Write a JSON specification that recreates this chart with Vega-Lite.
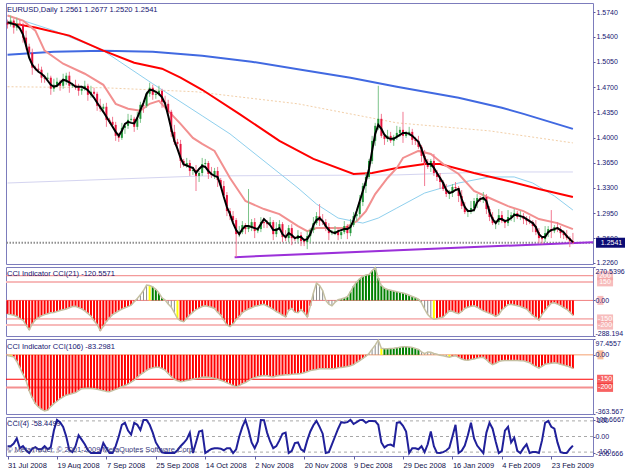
{
"$schema":"https://vega.github.io/schema/vega-lite/v6.json",
"padding":{"left":3,"top":2,"right":0,"bottom":0},
"background":"white",
"config":{"view":{"stroke":"#7C7CBC","strokeWidth":1},"axis":{"labelFont":"Liberation Sans","labelFontSize":7,"labelColor":"#141470","tickColor":"#5A5AA0","domain":false,"grid":false},"text":{"font":"Liberation Sans","fontSize":7.5}},
"resolve":{"scale":{"x":"independent","y":"independent","color":"independent"}},
"spacing":3,
"bounds":"flush",
"datasets":{
"bars":[
{"i":0,"o":1.5593,"h":1.5635,"l":1.5510,"c":1.5565,"m":1.5597,"a":-110,"ka":"r","b":-4,"kb":"w","d":-62},
{"i":1,"o":1.5565,"h":1.5691,"l":1.5538,"c":1.5621,"m":1.5586,"a":-115,"ka":"r","b":-8,"kb":"y","d":-62},
{"i":2,"o":1.5621,"h":1.5649,"l":1.5440,"c":1.5524,"m":1.5572,"a":-120,"ka":"r","b":-12,"kb":"r","d":-45},
{"i":3,"o":1.5524,"h":1.5663,"l":1.5482,"c":1.5579,"m":1.5558,"a":-130,"ka":"r","b":-40,"kb":"r","d":-12},
{"i":4,"o":1.5579,"h":1.5635,"l":1.5538,"c":1.5565,"m":1.5510,"a":-150,"ka":"r","b":-80,"kb":"r","d":-75},
{"i":5,"o":1.5565,"h":1.5593,"l":1.5315,"c":1.5385,"m":1.5426,"a":-160,"ka":"r","b":-120,"kb":"r","d":-62},
{"i":6,"o":1.5385,"h":1.5482,"l":1.5218,"c":1.5260,"m":1.5274,"a":-200,"ka":"r","b":-160,"kb":"r","d":-88},
{"i":7,"o":1.5260,"h":1.5301,"l":1.5121,"c":1.5176,"m":1.5107,"a":-238,"ka":"r","b":-220,"kb":"r","d":-106},
{"i":8,"o":1.5176,"h":1.5232,"l":1.4870,"c":1.4968,"m":1.5009,"a":-190,"ka":"r","b":-265,"kb":"r","d":-78},
{"i":9,"o":1.4968,"h":1.4996,"l":1.4926,"c":1.4954,"m":1.4954,"a":-158,"ka":"r","b":-300,"kb":"r","d":-68},
{"i":10,"o":1.4954,"h":1.5023,"l":1.4898,"c":1.4940,"m":1.4912,"a":-140,"ka":"r","b":-320,"kb":"r","d":-82},
{"i":11,"o":1.4940,"h":1.4982,"l":1.4759,"c":1.4829,"m":1.4884,"a":-125,"ka":"r","b":-335,"kb":"r","d":-82},
{"i":12,"o":1.4829,"h":1.4870,"l":1.4759,"c":1.4815,"m":1.4843,"a":-115,"ka":"r","b":-345,"kb":"r","d":-62},
{"i":13,"o":1.4815,"h":1.4898,"l":1.4787,"c":1.4829,"m":1.4787,"a":-108,"ka":"r","b":-340,"kb":"r","d":-82},
{"i":14,"o":1.4829,"h":1.4857,"l":1.4592,"c":1.4676,"m":1.4731,"a":-100,"ka":"r","b":-318,"kb":"r","d":-68},
{"i":15,"o":1.4676,"h":1.4815,"l":1.4634,"c":1.4731,"m":1.4704,"a":-97,"ka":"r","b":-300,"kb":"r","d":38},
{"i":16,"o":1.4731,"h":1.4829,"l":1.4704,"c":1.4773,"m":1.4717,"a":-90,"ka":"r","b":-285,"kb":"r","d":106},
{"i":17,"o":1.4773,"h":1.4801,"l":1.4648,"c":1.4717,"m":1.4759,"a":-82,"ka":"r","b":-270,"kb":"r","d":92},
{"i":18,"o":1.4717,"h":1.4884,"l":1.4676,"c":1.4787,"m":1.4801,"a":-75,"ka":"r","b":-258,"kb":"r","d":62},
{"i":19,"o":1.4787,"h":1.4898,"l":1.4731,"c":1.4857,"m":1.4787,"a":-70,"ka":"r","b":-248,"kb":"r","d":0},
{"i":20,"o":1.4857,"h":1.4912,"l":1.4620,"c":1.4717,"m":1.4766,"a":-60,"ka":"r","b":-243,"kb":"r","d":-88},
{"i":21,"o":1.4717,"h":1.4759,"l":1.4690,"c":1.4731,"m":1.4738,"a":-50,"ka":"r","b":-238,"kb":"r","d":-100},
{"i":22,"o":1.4731,"h":1.4801,"l":1.4662,"c":1.4704,"m":1.4704,"a":-48,"ka":"r","b":-232,"kb":"r","d":-62},
{"i":23,"o":1.4704,"h":1.4745,"l":1.4579,"c":1.4648,"m":1.4704,"a":-58,"ka":"r","b":-220,"kb":"r","d":8},
{"i":24,"o":1.4648,"h":1.4717,"l":1.4592,"c":1.4676,"m":1.4704,"a":-68,"ka":"r","b":-208,"kb":"r","d":-20},
{"i":25,"o":1.4676,"h":1.4787,"l":1.4648,"c":1.4717,"m":1.4683,"a":-85,"ka":"r","b":-207,"kb":"r","d":-50},
{"i":26,"o":1.4717,"h":1.4745,"l":1.4509,"c":1.4592,"m":1.4655,"a":-105,"ka":"r","b":-206,"kb":"r","d":-88},
{"i":27,"o":1.4592,"h":1.4717,"l":1.4551,"c":1.4634,"m":1.4606,"a":-128,"ka":"r","b":-207,"kb":"r","d":-106},
{"i":28,"o":1.4634,"h":1.4690,"l":1.4579,"c":1.4606,"m":1.4551,"a":-165,"ka":"r","b":-208,"kb":"r","d":-106},
{"i":29,"o":1.4606,"h":1.4634,"l":1.4370,"c":1.4440,"m":1.4481,"a":-195,"ka":"r","b":-212,"kb":"r","d":-105},
{"i":30,"o":1.4440,"h":1.4537,"l":1.4356,"c":1.4398,"m":1.4419,"a":-245,"ka":"r","b":-216,"kb":"r","d":-106},
{"i":31,"o":1.4398,"h":1.4467,"l":1.4342,"c":1.4426,"m":1.4356,"a":-210,"ka":"r","b":-220,"kb":"r","d":-42},
{"i":32,"o":1.4426,"h":1.4481,"l":1.4148,"c":1.4245,"m":1.4287,"a":-170,"ka":"r","b":-225,"kb":"r","d":-75},
{"i":33,"o":1.4245,"h":1.4273,"l":1.4189,"c":1.4217,"m":1.4217,"a":-140,"ka":"r","b":-227,"kb":"r","d":-106},
{"i":34,"o":1.4217,"h":1.4287,"l":1.4134,"c":1.4175,"m":1.4148,"a":-115,"ka":"r","b":-220,"kb":"r","d":-106},
{"i":35,"o":1.4175,"h":1.4217,"l":1.3953,"c":1.4023,"m":1.4078,"a":-100,"ka":"r","b":-212,"kb":"r","d":-62},
{"i":36,"o":1.4023,"h":1.4064,"l":1.3939,"c":1.3995,"m":1.4023,"a":-85,"ka":"r","b":-205,"kb":"r","d":0},
{"i":37,"o":1.3995,"h":1.4203,"l":1.3967,"c":1.4134,"m":1.4092,"a":-70,"ka":"r","b":-196,"kb":"r","d":75},
{"i":38,"o":1.4134,"h":1.4189,"l":1.4050,"c":1.4162,"m":1.4189,"a":-60,"ka":"r","b":-188,"kb":"r","d":88},
{"i":39,"o":1.4162,"h":1.4328,"l":1.4120,"c":1.4245,"m":1.4217,"a":-50,"ka":"r","b":-180,"kb":"r","d":38},
{"i":40,"o":1.4245,"h":1.4314,"l":1.4217,"c":1.4259,"m":1.4203,"a":-38,"ka":"r","b":-168,"kb":"r","d":12},
{"i":41,"o":1.4259,"h":1.4287,"l":1.4078,"c":1.4148,"m":1.4196,"a":-10,"ka":"r","b":-155,"kb":"r","d":88},
{"i":42,"o":1.4148,"h":1.4356,"l":1.4106,"c":1.4259,"m":1.4273,"a":15,"ka":"w","b":-138,"kb":"r","d":75},
{"i":43,"o":1.4259,"h":1.4495,"l":1.4203,"c":1.4453,"m":1.4384,"a":45,"ka":"w","b":-122,"kb":"r","d":42},
{"i":44,"o":1.4453,"h":1.4509,"l":1.4342,"c":1.4440,"m":1.4481,"a":80,"ka":"w","b":-110,"kb":"r","d":106},
{"i":45,"o":1.4440,"h":1.4634,"l":1.4412,"c":1.4606,"m":1.4606,"a":124,"ka":"w","b":-96,"kb":"r","d":106},
{"i":46,"o":1.4606,"h":1.4759,"l":1.4565,"c":1.4690,"m":1.4662,"a":120,"ka":"y","b":-85,"kb":"r","d":75},
{"i":47,"o":1.4690,"h":1.4731,"l":1.4523,"c":1.4592,"m":1.4655,"a":110,"ka":"g","b":-80,"kb":"r","d":25},
{"i":48,"o":1.4592,"h":1.4648,"l":1.4537,"c":1.4606,"m":1.4634,"a":90,"ka":"g","b":-76,"kb":"r","d":-38},
{"i":49,"o":1.4606,"h":1.4717,"l":1.4579,"c":1.4648,"m":1.4606,"a":60,"ka":"g","b":-76,"kb":"r","d":-70},
{"i":50,"o":1.4648,"h":1.4676,"l":1.4412,"c":1.4495,"m":1.4558,"a":20,"ka":"g","b":-84,"kb":"r","d":-102},
{"i":51,"o":1.4495,"h":1.4579,"l":1.4426,"c":1.4467,"m":1.4467,"a":2,"ka":"w","b":-94,"kb":"r","d":-106},
{"i":52,"o":1.4467,"h":1.4523,"l":1.4328,"c":1.4356,"m":1.4301,"a":-30,"ka":"w","b":-115,"kb":"r","d":-106},
{"i":53,"o":1.4356,"h":1.4384,"l":1.4009,"c":1.4078,"m":1.4120,"a":-55,"ka":"w","b":-135,"kb":"r","d":-106},
{"i":54,"o":1.4078,"h":1.4175,"l":1.3897,"c":1.3939,"m":1.3953,"a":-100,"ka":"w","b":-150,"kb":"r","d":-106},
{"i":55,"o":1.3939,"h":1.3981,"l":1.3856,"c":1.3911,"m":1.3842,"a":-147,"ka":"y","b":-160,"kb":"r","d":-88},
{"i":56,"o":1.3911,"h":1.3967,"l":1.3578,"c":1.3675,"m":1.3717,"a":-165,"ka":"r","b":-165,"kb":"r","d":-62},
{"i":57,"o":1.3675,"h":1.3703,"l":1.3592,"c":1.3619,"m":1.3626,"a":-172,"ka":"r","b":-163,"kb":"r","d":-42},
{"i":58,"o":1.3619,"h":1.3717,"l":1.3578,"c":1.3647,"m":1.3612,"a":-145,"ka":"r","b":-158,"kb":"r","d":-18},
{"i":59,"o":1.3647,"h":1.3689,"l":1.3467,"c":1.3536,"m":1.3592,"a":-118,"ka":"r","b":-155,"kb":"r","d":25},
{"i":60,"o":1.3536,"h":1.3592,"l":1.3481,"c":1.3550,"m":1.3578,"a":-95,"ka":"r","b":-150,"kb":"r","d":-106},
{"i":61,"o":1.3550,"h":1.3619,"l":1.3258,"c":1.3467,"m":1.3508,"a":-75,"ka":"r","b":-146,"kb":"r","d":-38},
{"i":62,"o":1.3467,"h":1.3536,"l":1.3383,"c":1.3508,"m":1.3564,"a":-62,"ka":"r","b":-143,"kb":"r","d":32},
{"i":63,"o":1.3508,"h":1.3717,"l":1.3467,"c":1.3633,"m":1.3606,"a":-50,"ka":"r","b":-138,"kb":"r","d":38},
{"i":64,"o":1.3633,"h":1.3703,"l":1.3606,"c":1.3647,"m":1.3592,"a":-44,"ka":"r","b":-136,"kb":"r","d":-106},
{"i":65,"o":1.3647,"h":1.3675,"l":1.3425,"c":1.3494,"m":1.3536,"a":-50,"ka":"r","b":-138,"kb":"r","d":-92},
{"i":66,"o":1.3494,"h":1.3592,"l":1.3439,"c":1.3481,"m":1.3494,"a":-55,"ka":"r","b":-141,"kb":"r","d":-80},
{"i":67,"o":1.3481,"h":1.3578,"l":1.3425,"c":1.3536,"m":1.3467,"a":-65,"ka":"r","b":-145,"kb":"r","d":-75},
{"i":68,"o":1.3536,"h":1.3592,"l":1.3314,"c":1.3411,"m":1.3453,"a":-95,"ka":"r","b":-150,"kb":"r","d":-75},
{"i":69,"o":1.3411,"h":1.3439,"l":1.3300,"c":1.3327,"m":1.3327,"a":-120,"ka":"r","b":-156,"kb":"r","d":-78},
{"i":70,"o":1.3327,"h":1.3397,"l":1.3161,"c":1.3202,"m":1.3175,"a":-160,"ka":"r","b":-163,"kb":"r","d":-88},
{"i":71,"o":1.3202,"h":1.3244,"l":1.2910,"c":1.2980,"m":1.3036,"a":-199,"ka":"r","b":-172,"kb":"r","d":-75},
{"i":72,"o":1.2980,"h":1.3022,"l":1.2855,"c":1.2910,"m":1.2938,"a":-212,"ka":"r","b":-180,"kb":"r","d":-75},
{"i":73,"o":1.2910,"h":1.2980,"l":1.2827,"c":1.2855,"m":1.2813,"a":-190,"ka":"r","b":-188,"kb":"r","d":-106},
{"i":74,"o":1.2855,"h":1.2883,"l":1.2341,"c":1.2660,"m":1.2716,"a":-155,"ka":"r","b":-197,"kb":"r","d":-82},
{"i":75,"o":1.2660,"h":1.2772,"l":1.2619,"c":1.2688,"m":1.2660,"a":-130,"ka":"r","b":-188,"kb":"r","d":0},
{"i":76,"o":1.2688,"h":1.2841,"l":1.2660,"c":1.2786,"m":1.2730,"a":-100,"ka":"r","b":-178,"kb":"r","d":62},
{"i":77,"o":1.2786,"h":1.2813,"l":1.2660,"c":1.2730,"m":1.2772,"a":-82,"ka":"r","b":-170,"kb":"r","d":106},
{"i":78,"o":1.2730,"h":1.3286,"l":1.2688,"c":1.2758,"m":1.2772,"a":-70,"ka":"r","b":-158,"kb":"r","d":42},
{"i":79,"o":1.2758,"h":1.2869,"l":1.2702,"c":1.2827,"m":1.2758,"a":-60,"ka":"r","b":-148,"kb":"r","d":-38},
{"i":80,"o":1.2827,"h":1.2883,"l":1.2605,"c":1.2702,"m":1.2744,"a":-48,"ka":"r","b":-140,"kb":"r","d":-75},
{"i":81,"o":1.2702,"h":1.2758,"l":1.2674,"c":1.2730,"m":1.2730,"a":-44,"ka":"r","b":-134,"kb":"r","d":-32},
{"i":82,"o":1.2730,"h":1.2897,"l":1.2688,"c":1.2827,"m":1.2799,"a":-36,"ka":"r","b":-130,"kb":"r","d":106},
{"i":83,"o":1.2827,"h":1.2869,"l":1.2744,"c":1.2813,"m":1.2869,"a":-31,"ka":"r","b":-127,"kb":"r","d":105},
{"i":84,"o":1.2813,"h":1.2855,"l":1.2744,"c":1.2799,"m":1.2827,"a":-45,"ka":"r","b":-128,"kb":"r","d":25},
{"i":85,"o":1.2799,"h":1.2897,"l":1.2772,"c":1.2827,"m":1.2786,"a":-58,"ka":"r","b":-133,"kb":"r","d":-32},
{"i":86,"o":1.2827,"h":1.2855,"l":1.2577,"c":1.2660,"m":1.2716,"a":-72,"ka":"r","b":-136,"kb":"r","d":-75},
{"i":87,"o":1.2660,"h":1.2827,"l":1.2619,"c":1.2744,"m":1.2716,"a":-90,"ka":"r","b":-130,"kb":"r","d":-62},
{"i":88,"o":1.2744,"h":1.2855,"l":1.2716,"c":1.2799,"m":1.2744,"a":-103,"ka":"r","b":-127,"kb":"r","d":-25},
{"i":89,"o":1.2799,"h":1.2827,"l":1.2549,"c":1.2619,"m":1.2660,"a":-120,"ka":"r","b":-125,"kb":"r","d":18},
{"i":90,"o":1.2619,"h":1.2716,"l":1.2563,"c":1.2605,"m":1.2619,"a":-134,"ka":"r","b":-123,"kb":"r","d":25},
{"i":91,"o":1.2605,"h":1.2786,"l":1.2549,"c":1.2744,"m":1.2674,"a":-80,"ka":"r","b":-122,"kb":"r","d":-106},
{"i":92,"o":1.2744,"h":1.2799,"l":1.2507,"c":1.2605,"m":1.2646,"a":-65,"ka":"r","b":-120,"kb":"r","d":-92},
{"i":93,"o":1.2605,"h":1.2632,"l":1.2563,"c":1.2591,"m":1.2605,"a":-95,"ka":"r","b":-118,"kb":"r","d":-42},
{"i":94,"o":1.2591,"h":1.2716,"l":1.2549,"c":1.2646,"m":1.2619,"a":-100,"ka":"r","b":-117,"kb":"r","d":-38},
{"i":95,"o":1.2646,"h":1.2688,"l":1.2494,"c":1.2563,"m":1.2619,"a":-75,"ka":"r","b":-115,"kb":"r","d":-82},
{"i":96,"o":1.2563,"h":1.2605,"l":1.2494,"c":1.2549,"m":1.2577,"a":-100,"ka":"r","b":-110,"kb":"r","d":-95},
{"i":97,"o":1.2549,"h":1.2702,"l":1.2452,"c":1.2632,"m":1.2591,"a":-134,"ka":"r","b":-104,"kb":"r","d":-25},
{"i":98,"o":1.2632,"h":1.2744,"l":1.2549,"c":1.2716,"m":1.2660,"a":-44,"ka":"r","b":-97,"kb":"r","d":32},
{"i":99,"o":1.2716,"h":1.2897,"l":1.2674,"c":1.2813,"m":1.2786,"a":60,"ka":"w","b":-93,"kb":"r","d":72},
{"i":100,"o":1.2813,"h":1.2966,"l":1.2786,"c":1.2910,"m":1.2855,"a":140,"ka":"w","b":-90,"kb":"r","d":100},
{"i":101,"o":1.2910,"h":1.3077,"l":1.2772,"c":1.2841,"m":1.2883,"a":120,"ka":"w","b":-86,"kb":"r","d":62},
{"i":102,"o":1.2841,"h":1.2938,"l":1.2786,"c":1.2827,"m":1.2841,"a":80,"ka":"w","b":-85,"kb":"r","d":18},
{"i":103,"o":1.2827,"h":1.2869,"l":1.2702,"c":1.2758,"m":1.2772,"a":0,"ka":"w","b":-85,"kb":"r","d":-106},
{"i":104,"o":1.2758,"h":1.2813,"l":1.2577,"c":1.2674,"m":1.2716,"a":-30,"ka":"w","b":-85,"kb":"r","d":-100},
{"i":105,"o":1.2674,"h":1.2716,"l":1.2646,"c":1.2688,"m":1.2688,"a":-44,"ka":"w","b":-85,"kb":"r","d":-50},
{"i":106,"o":1.2688,"h":1.2772,"l":1.2646,"c":1.2702,"m":1.2674,"a":-15,"ka":"w","b":-84,"kb":"r","d":0},
{"i":107,"o":1.2702,"h":1.2744,"l":1.2577,"c":1.2646,"m":1.2702,"a":5,"ka":"w","b":-80,"kb":"r","d":50},
{"i":108,"o":1.2646,"h":1.2730,"l":1.2591,"c":1.2688,"m":1.2716,"a":12,"ka":"g","b":-77,"kb":"r","d":92},
{"i":109,"o":1.2688,"h":1.2841,"l":1.2660,"c":1.2772,"m":1.2730,"a":20,"ka":"g","b":-75,"kb":"r","d":88},
{"i":110,"o":1.2772,"h":1.2799,"l":1.2591,"c":1.2674,"m":1.2730,"a":30,"ka":"g","b":-71,"kb":"r","d":92},
{"i":111,"o":1.2674,"h":1.2869,"l":1.2632,"c":1.2786,"m":1.2758,"a":70,"ka":"g","b":-67,"kb":"r","d":106},
{"i":112,"o":1.2786,"h":1.2966,"l":1.2758,"c":1.2910,"m":1.2855,"a":115,"ka":"g","b":-60,"kb":"r","d":80},
{"i":113,"o":1.2910,"h":1.2966,"l":1.2841,"c":1.2938,"m":1.2980,"a":150,"ka":"g","b":-47,"kb":"r","d":92},
{"i":114,"o":1.2938,"h":1.3202,"l":1.2897,"c":1.3105,"m":1.3119,"a":175,"ka":"g","b":-35,"kb":"r","d":105},
{"i":115,"o":1.3105,"h":1.3369,"l":1.3049,"c":1.3327,"m":1.3258,"a":195,"ka":"g","b":-22,"kb":"r","d":106},
{"i":116,"o":1.3327,"h":1.3508,"l":1.3230,"c":1.3453,"m":1.3397,"a":205,"ka":"g","b":-8,"kb":"r","d":88},
{"i":117,"o":1.3453,"h":1.3703,"l":1.3425,"c":1.3675,"m":1.3564,"a":210,"ka":"g","b":8,"kb":"w","d":100},
{"i":118,"o":1.3675,"h":1.4023,"l":1.3633,"c":1.3953,"m":1.3814,"a":240,"ka":"g","b":35,"kb":"w","d":100},
{"i":119,"o":1.3953,"h":1.4203,"l":1.3884,"c":1.4162,"m":1.4050,"a":265,"ka":"g","b":60,"kb":"w","d":98},
{"i":120,"o":1.4162,"h":1.4717,"l":1.4106,"c":1.4259,"m":1.4175,"a":180,"ka":"g","b":90,"kb":"w","d":75},
{"i":121,"o":1.4259,"h":1.4328,"l":1.3995,"c":1.4023,"m":1.4120,"a":120,"ka":"g","b":40,"kb":"y","d":-38},
{"i":122,"o":1.4023,"h":1.4050,"l":1.3897,"c":1.3981,"m":1.4037,"a":100,"ka":"g","b":37,"kb":"g","d":-70},
{"i":123,"o":1.3981,"h":1.4106,"l":1.3939,"c":1.4023,"m":1.3995,"a":88,"ka":"g","b":38,"kb":"g","d":-55},
{"i":124,"o":1.4023,"h":1.4078,"l":1.3925,"c":1.3953,"m":1.3981,"a":82,"ka":"g","b":39,"kb":"g","d":-52},
{"i":125,"o":1.3953,"h":1.4037,"l":1.3884,"c":1.4009,"m":1.3981,"a":76,"ka":"g","b":40,"kb":"g","d":-62},
{"i":126,"o":1.4009,"h":1.4162,"l":1.3967,"c":1.4064,"m":1.4009,"a":70,"ka":"g","b":43,"kb":"g","d":88},
{"i":127,"o":1.4064,"h":1.4148,"l":1.4009,"c":1.4106,"m":1.4037,"a":65,"ka":"g","b":47,"kb":"g","d":92},
{"i":128,"o":1.4106,"h":1.4356,"l":1.3925,"c":1.4023,"m":1.4064,"a":60,"ka":"g","b":50,"kb":"g","d":68},
{"i":129,"o":1.4023,"h":1.4092,"l":1.3995,"c":1.4064,"m":1.4064,"a":52,"ka":"g","b":50,"kb":"g","d":32},
{"i":130,"o":1.4064,"h":1.4148,"l":1.4023,"c":1.4078,"m":1.4050,"a":42,"ka":"g","b":48,"kb":"g","d":-106},
{"i":131,"o":1.4078,"h":1.4120,"l":1.3897,"c":1.3967,"m":1.4023,"a":32,"ka":"g","b":46,"kb":"g","d":-75},
{"i":132,"o":1.3967,"h":1.4009,"l":1.3897,"c":1.3953,"m":1.3981,"a":22,"ka":"g","b":40,"kb":"g","d":-75},
{"i":133,"o":1.3953,"h":1.4023,"l":1.3842,"c":1.3870,"m":1.3939,"a":10,"ka":"g","b":33,"kb":"g","d":-82},
{"i":134,"o":1.3870,"h":1.3897,"l":1.3661,"c":1.3744,"m":1.3842,"a":-20,"ka":"w","b":18,"kb":"w","d":-62},
{"i":135,"o":1.3744,"h":1.3828,"l":1.3327,"c":1.3647,"m":1.3717,"a":-70,"ka":"w","b":8,"kb":"w","d":-100},
{"i":136,"o":1.3647,"h":1.3703,"l":1.3564,"c":1.3592,"m":1.3633,"a":-115,"ka":"w","b":18,"kb":"w","d":-50},
{"i":137,"o":1.3592,"h":1.3703,"l":1.3522,"c":1.3675,"m":1.3633,"a":-140,"ka":"w","b":16,"kb":"w","d":32},
{"i":138,"o":1.3675,"h":1.3772,"l":1.3467,"c":1.3508,"m":1.3578,"a":-152,"ka":"y","b":8,"kb":"w","d":-62},
{"i":139,"o":1.3508,"h":1.3550,"l":1.3397,"c":1.3453,"m":1.3508,"a":-148,"ka":"r","b":4,"kb":"w","d":-105},
{"i":140,"o":1.3453,"h":1.3508,"l":1.3286,"c":1.3383,"m":1.3439,"a":-140,"ka":"r","b":-3,"kb":"w","d":-106},
{"i":141,"o":1.3383,"h":1.3411,"l":1.3258,"c":1.3286,"m":1.3369,"a":-134,"ka":"r","b":-6,"kb":"w","d":-100},
{"i":142,"o":1.3286,"h":1.3355,"l":1.3175,"c":1.3216,"m":1.3272,"a":-110,"ka":"r","b":-10,"kb":"w","d":-90},
{"i":143,"o":1.3216,"h":1.3272,"l":1.3147,"c":1.3230,"m":1.3230,"a":-85,"ka":"r","b":-14,"kb":"y","d":-72},
{"i":144,"o":1.3230,"h":1.3355,"l":1.3175,"c":1.3314,"m":1.3244,"a":-88,"ka":"r","b":-9,"kb":"r","d":0},
{"i":145,"o":1.3314,"h":1.3383,"l":1.3272,"c":1.3300,"m":1.3272,"a":-100,"ka":"r","b":-5,"kb":"r","d":75},
{"i":146,"o":1.3300,"h":1.3327,"l":1.3105,"c":1.3189,"m":1.3286,"a":-108,"ka":"r","b":-15,"kb":"r","d":-106},
{"i":147,"o":1.3189,"h":1.3272,"l":1.3008,"c":1.3049,"m":1.3147,"a":-90,"ka":"r","b":-26,"kb":"r","d":-92},
{"i":148,"o":1.3049,"h":1.3105,"l":1.2938,"c":1.2966,"m":1.3036,"a":-65,"ka":"r","b":-32,"kb":"r","d":-58},
{"i":149,"o":1.2966,"h":1.3008,"l":1.2897,"c":1.2980,"m":1.2980,"a":-55,"ka":"r","b":-33,"kb":"r","d":8},
{"i":150,"o":1.2980,"h":1.3119,"l":1.2938,"c":1.3022,"m":1.2980,"a":-48,"ka":"r","b":-28,"kb":"r","d":88},
{"i":151,"o":1.3022,"h":1.3161,"l":1.2966,"c":1.3119,"m":1.2994,"a":-44,"ka":"r","b":-25,"kb":"r","d":-12},
{"i":152,"o":1.3119,"h":1.3216,"l":1.3022,"c":1.3161,"m":1.3105,"a":-55,"ka":"r","b":-20,"kb":"r","d":-58},
{"i":153,"o":1.3161,"h":1.3189,"l":1.3105,"c":1.3133,"m":1.3147,"a":-70,"ka":"r","b":-16,"kb":"r","d":-82},
{"i":154,"o":1.3133,"h":1.3244,"l":1.3091,"c":1.3175,"m":1.3161,"a":-85,"ka":"r","b":-15,"kb":"r","d":-106},
{"i":155,"o":1.3175,"h":1.3216,"l":1.2938,"c":1.3008,"m":1.3119,"a":-95,"ka":"r","b":-30,"kb":"r","d":25},
{"i":156,"o":1.3008,"h":1.3049,"l":1.2841,"c":1.2897,"m":1.2966,"a":-105,"ka":"r","b":-48,"kb":"r","d":88},
{"i":157,"o":1.2897,"h":1.2966,"l":1.2786,"c":1.2813,"m":1.2869,"a":-115,"ka":"r","b":-60,"kb":"r","d":50},
{"i":158,"o":1.2813,"h":1.2855,"l":1.2730,"c":1.2827,"m":1.2813,"a":-130,"ka":"r","b":-52,"kb":"r","d":-32},
{"i":159,"o":1.2827,"h":1.3008,"l":1.2786,"c":1.2924,"m":1.2869,"a":-115,"ka":"r","b":-41,"kb":"r","d":-106},
{"i":160,"o":1.2924,"h":1.2980,"l":1.2813,"c":1.2841,"m":1.2869,"a":-78,"ka":"r","b":-36,"kb":"r","d":-92},
{"i":161,"o":1.2841,"h":1.2869,"l":1.2744,"c":1.2813,"m":1.2841,"a":-55,"ka":"r","b":-34,"kb":"r","d":38},
{"i":162,"o":1.2813,"h":1.2994,"l":1.2772,"c":1.2897,"m":1.2855,"a":-35,"ka":"r","b":-34,"kb":"r","d":62},
{"i":163,"o":1.2897,"h":1.2966,"l":1.2841,"c":1.2924,"m":1.2883,"a":-31,"ka":"r","b":-34,"kb":"r","d":-38},
{"i":164,"o":1.2924,"h":1.3008,"l":1.2827,"c":1.2952,"m":1.2924,"a":-38,"ka":"r","b":-34,"kb":"r","d":-8},
{"i":165,"o":1.2952,"h":1.2980,"l":1.2869,"c":1.2897,"m":1.2924,"a":-43,"ka":"r","b":-34,"kb":"r","d":-92},
{"i":166,"o":1.2897,"h":1.2980,"l":1.2855,"c":1.2910,"m":1.2910,"a":-50,"ka":"r","b":-36,"kb":"r","d":-106},
{"i":167,"o":1.2910,"h":1.2952,"l":1.2799,"c":1.2869,"m":1.2897,"a":-60,"ka":"r","b":-37,"kb":"r","d":-75},
{"i":168,"o":1.2869,"h":1.2910,"l":1.2786,"c":1.2841,"m":1.2869,"a":-70,"ka":"r","b":-42,"kb":"r","d":-50},
{"i":169,"o":1.2841,"h":1.2910,"l":1.2799,"c":1.2827,"m":1.2841,"a":-95,"ka":"r","b":-48,"kb":"r","d":-106},
{"i":170,"o":1.2827,"h":1.2855,"l":1.2688,"c":1.2772,"m":1.2813,"a":-122,"ka":"r","b":-62,"kb":"r","d":-100},
{"i":171,"o":1.2772,"h":1.2855,"l":1.2646,"c":1.2688,"m":1.2758,"a":-140,"ka":"r","b":-72,"kb":"r","d":-100},
{"i":172,"o":1.2688,"h":1.2744,"l":1.2535,"c":1.2605,"m":1.2660,"a":-160,"ka":"r","b":-81,"kb":"r","d":-106},
{"i":173,"o":1.2605,"h":1.2632,"l":1.2521,"c":1.2591,"m":1.2619,"a":-115,"ka":"r","b":-70,"kb":"r","d":-25},
{"i":174,"o":1.2591,"h":1.2772,"l":1.2549,"c":1.2674,"m":1.2619,"a":-80,"ka":"r","b":-58,"kb":"r","d":88},
{"i":175,"o":1.2674,"h":1.2772,"l":1.2619,"c":1.2730,"m":1.2688,"a":-50,"ka":"r","b":-54,"kb":"r","d":100},
{"i":176,"o":1.2730,"h":1.2994,"l":1.2605,"c":1.2702,"m":1.2716,"a":-22,"ka":"r","b":-51,"kb":"r","d":62},
{"i":177,"o":1.2702,"h":1.2786,"l":1.2674,"c":1.2758,"m":1.2730,"a":-20,"ka":"r","b":-49,"kb":"r","d":50},
{"i":178,"o":1.2758,"h":1.2827,"l":1.2688,"c":1.2730,"m":1.2744,"a":-30,"ka":"r","b":-52,"kb":"r","d":-38},
{"i":179,"o":1.2730,"h":1.2772,"l":1.2605,"c":1.2674,"m":1.2716,"a":-42,"ka":"r","b":-58,"kb":"r","d":-100},
{"i":180,"o":1.2674,"h":1.2716,"l":1.2591,"c":1.2646,"m":1.2688,"a":-58,"ka":"r","b":-63,"kb":"r","d":-106},
{"i":181,"o":1.2646,"h":1.2716,"l":1.2577,"c":1.2605,"m":1.2632,"a":-72,"ka":"r","b":-68,"kb":"r","d":-106},
{"i":182,"o":1.2605,"h":1.2632,"l":1.2480,"c":1.2561,"m":1.2591,"a":-95,"ka":"r","b":-75,"kb":"r","d":-80},
{"i":183,"o":1.2561,"h":1.2677,"l":1.2520,"c":1.2541,"m":1.2549,"a":-120.5571,"ka":"r","b":-83.2981,"kb":"r","d":-58.4499}
],
"lines":[
{"s":"lav","i":0,"p":1.3369},{"s":"lav","i":63,"p":1.3467},{"s":"lav","i":126,"p":1.3481},{"s":"lav","i":156,"p":1.3522},{"s":"lav","i":183,"p":1.3522},
{"s":"peach","i":0,"p":1.4704},{"s":"peach","i":31,"p":1.4690},{"s":"peach","i":61,"p":1.4634},{"s":"peach","i":94,"p":1.4467},{"s":"peach","i":126,"p":1.4203},{"s":"peach","i":156,"p":1.4092},{"s":"peach","i":183,"p":1.3925},
{"s":"blue","i":0,"p":1.5149},{"s":"blue","i":15,"p":1.5190},{"s":"blue","i":31,"p":1.5204},{"s":"blue","i":47,"p":1.5190},{"s":"blue","i":63,"p":1.5135},{"s":"blue","i":79,"p":1.5051},{"s":"blue","i":95,"p":1.4940},{"s":"blue","i":111,"p":1.4829},{"s":"blue","i":126,"p":1.4704},{"s":"blue","i":146,"p":1.4551},{"s":"blue","i":160,"p":1.4412},{"s":"blue","i":167,"p":1.4328},{"s":"blue","i":183,"p":1.4120},
{"s":"lblue","i":0,"p":1.5691},{"s":"lblue","i":15,"p":1.5482},{"s":"lblue","i":31,"p":1.5204},{"s":"lblue","i":47,"p":1.4745},{"s":"lblue","i":63,"p":1.4301},{"s":"lblue","i":72,"p":1.4050},{"s":"lblue","i":83,"p":1.3675},{"s":"lblue","i":94,"p":1.3300},{"s":"lblue","i":100,"p":1.3077},{"s":"lblue","i":107,"p":1.2883},{"s":"lblue","i":115,"p":1.2813},{"s":"lblue","i":120,"p":1.2883},{"s":"lblue","i":126,"p":1.3022},{"s":"lblue","i":135,"p":1.3230},{"s":"lblue","i":146,"p":1.3369},{"s":"lblue","i":156,"p":1.3453},{"s":"lblue","i":164,"p":1.3453},{"s":"lblue","i":170,"p":1.3369},{"s":"lblue","i":177,"p":1.3189},{"s":"lblue","i":183,"p":1.2994},
{"s":"red","i":0,"p":1.5593},{"s":"red","i":9,"p":1.5524},{"s":"red","i":20,"p":1.5413},{"s":"red","i":31,"p":1.5204},{"s":"red","i":41,"p":1.5037},{"s":"red","i":50,"p":1.4954},{"s":"red","i":56,"p":1.4829},{"s":"red","i":63,"p":1.4662},{"s":"red","i":75,"p":1.4328},{"s":"red","i":88,"p":1.3953},{"s":"red","i":99,"p":1.3703},{"s":"red","i":112,"p":1.3494},{"s":"red","i":118,"p":1.3508},{"s":"red","i":126,"p":1.3578},{"s":"red","i":135,"p":1.3633},{"s":"red","i":140,"p":1.3633},{"s":"red","i":151,"p":1.3508},{"s":"red","i":162,"p":1.3397},{"s":"red","i":172,"p":1.3286},{"s":"red","i":183,"p":1.3175},
{"s":"pink","i":0,"p":1.5691},{"s":"pink","i":5,"p":1.5621},{"s":"pink","i":9,"p":1.5482},{"s":"pink","i":12,"p":1.5204},{"s":"pink","i":18,"p":1.5023},{"s":"pink","i":25,"p":1.4884},{"s":"pink","i":31,"p":1.4731},{"s":"pink","i":35,"p":1.4467},{"s":"pink","i":39,"p":1.4398},{"s":"pink","i":43,"p":1.4370},{"s":"pink","i":46,"p":1.4467},{"s":"pink","i":49,"p":1.4509},{"s":"pink","i":52,"p":1.4370},{"s":"pink","i":56,"p":1.4189},{"s":"pink","i":60,"p":1.3995},{"s":"pink","i":63,"p":1.3911},{"s":"pink","i":67,"p":1.3814},{"s":"pink","i":72,"p":1.3439},{"s":"pink","i":77,"p":1.3119},{"s":"pink","i":83,"p":1.3008},{"s":"pink","i":88,"p":1.2938},{"s":"pink","i":94,"p":1.2772},{"s":"pink","i":97,"p":1.2702},{"s":"pink","i":100,"p":1.2744},{"s":"pink","i":104,"p":1.2744},{"s":"pink","i":109,"p":1.2744},{"s":"pink","i":113,"p":1.2841},{"s":"pink","i":116,"p":1.2980},{"s":"pink","i":119,"p":1.3216},{"s":"pink","i":123,"p":1.3439},{"s":"pink","i":126,"p":1.3578},{"s":"pink","i":128,"p":1.3717},{"s":"pink","i":133,"p":1.3814},{"s":"pink","i":137,"p":1.3772},{"s":"pink","i":141,"p":1.3633},{"s":"pink","i":146,"p":1.3494},{"s":"pink","i":151,"p":1.3258},{"s":"pink","i":156,"p":1.3161},{"s":"pink","i":162,"p":1.3049},{"s":"pink","i":167,"p":1.2980},{"s":"pink","i":172,"p":1.2869},{"s":"pink","i":178,"p":1.2813},{"s":"pink","i":183,"p":1.2730},
{"s":"trend","i":73.5,"p":1.2341},{"s":"trend","i":189.5,"p":1.2549}
]
},
"vconcat":[
{
"data":{"name":"bars"},
"width":587,"height":261,
"layer":[
{"data":{"name":"lines"},"transform":[{"filter":"datum.s=='lav'"}],"mark":{"type":"line","color":"#D4D4F0","strokeWidth":1},
 "encoding":{"x":{"field":"i","type":"quantitative","scale":{"domain":[-0.5,189.5],"nice":false,"zero":false},"axis":null},
 "y":{"field":"p","type":"quantitative","scale":{"domain":[1.2246,1.5865],"nice":false,"zero":false},"axis":{"orient":"right","values":[1.574,1.54,1.505,1.47,1.435,1.4,1.365,1.33,1.295,1.26,1.226],"format":".4f","tickSize":2,"labelPadding":1,"labelFlush":false,"title":null}}}},
{"data":{"name":"lines"},"transform":[{"filter":"datum.s=='peach'"}],"mark":{"type":"line","color":"#F2CFA8","strokeWidth":1,"strokeDash":[2,2]},
 "encoding":{"x":{"field":"i","type":"quantitative","axis":null},"y":{"field":"p","type":"quantitative","axis":{"orient":"right","values":[1.574,1.54,1.505,1.47,1.435,1.4,1.365,1.33,1.295,1.26,1.226],"format":".4f","tickSize":2,"labelPadding":1,"labelFlush":false,"title":null}}}},
{"data":{"name":"lines"},"transform":[{"filter":"datum.s=='blue'"}],"mark":{"type":"line","color":"#4169E1","strokeWidth":2},
 "encoding":{"x":{"field":"i","type":"quantitative","axis":null},"y":{"field":"p","type":"quantitative","axis":{"orient":"right","values":[1.574,1.54,1.505,1.47,1.435,1.4,1.365,1.33,1.295,1.26,1.226],"format":".4f","tickSize":2,"labelPadding":1,"labelFlush":false,"title":null}}}},
{"data":{"name":"lines"},"transform":[{"filter":"datum.s=='lblue'"}],"mark":{"type":"line","color":"#8FD0EE","strokeWidth":1},
 "encoding":{"x":{"field":"i","type":"quantitative","axis":null},"y":{"field":"p","type":"quantitative","axis":{"orient":"right","values":[1.574,1.54,1.505,1.47,1.435,1.4,1.365,1.33,1.295,1.26,1.226],"format":".4f","tickSize":2,"labelPadding":1,"labelFlush":false,"title":null}}}},
{"data":{"name":"lines"},"transform":[{"filter":"datum.s=='red'"}],"mark":{"type":"line","color":"#FF0000","strokeWidth":2},
 "encoding":{"x":{"field":"i","type":"quantitative","axis":null},"y":{"field":"p","type":"quantitative","axis":{"orient":"right","values":[1.574,1.54,1.505,1.47,1.435,1.4,1.365,1.33,1.295,1.26,1.226],"format":".4f","tickSize":2,"labelPadding":1,"labelFlush":false,"title":null}}}},
{"data":{"name":"lines"},"transform":[{"filter":"datum.s=='pink'"}],"mark":{"type":"line","color":"#F29090","strokeWidth":2},
 "encoding":{"x":{"field":"i","type":"quantitative","axis":null},"y":{"field":"p","type":"quantitative","axis":{"orient":"right","values":[1.574,1.54,1.505,1.47,1.435,1.4,1.365,1.33,1.295,1.26,1.226],"format":".4f","tickSize":2,"labelPadding":1,"labelFlush":false,"title":null}}}},
{"data":{"values":[{"p":1.2541}]},"mark":{"type":"rule","color":"#909090","strokeWidth":2,"strokeDash":[1.5,1.5]},
 "encoding":{"y":{"field":"p","type":"quantitative","axis":{"orient":"right","values":[1.574,1.54,1.505,1.47,1.435,1.4,1.365,1.33,1.295,1.26,1.226],"format":".4f","tickSize":2,"labelPadding":1,"labelFlush":false,"title":null}}}},
{"data":{"name":"lines"},"transform":[{"filter":"datum.s=='trend'"}],"mark":{"type":"line","color":"#9B30D9","strokeWidth":2},
 "encoding":{"x":{"field":"i","type":"quantitative","axis":null},"y":{"field":"p","type":"quantitative","axis":{"orient":"right","values":[1.574,1.54,1.505,1.47,1.435,1.4,1.365,1.33,1.295,1.26,1.226],"format":".4f","tickSize":2,"labelPadding":1,"labelFlush":false,"title":null}}}},
{"mark":{"type":"rule","strokeWidth":1},
 "encoding":{"x":{"field":"i","type":"quantitative","axis":null},"y":{"field":"l","type":"quantitative","axis":{"orient":"right","values":[1.574,1.54,1.505,1.47,1.435,1.4,1.365,1.33,1.295,1.26,1.226],"format":".4f","tickSize":2,"labelPadding":1,"labelFlush":false,"title":null}},"y2":{"field":"h"},
 "color":{"condition":{"test":"datum.c >= datum.o","value":"#7CC48A"},"value":"#F27A92"}}},
{"mark":{"type":"rule","strokeWidth":2},
 "encoding":{"x":{"field":"i","type":"quantitative","axis":null},"y":{"field":"o","type":"quantitative","axis":{"orient":"right","values":[1.574,1.54,1.505,1.47,1.435,1.4,1.365,1.33,1.295,1.26,1.226],"format":".4f","tickSize":2,"labelPadding":1,"labelFlush":false,"title":null}},"y2":{"field":"c"},
 "color":{"condition":{"test":"datum.c >= datum.o","value":"#23963A"},"value":"#E8163F"}}},
{"mark":{"type":"line","color":"#000000","strokeWidth":2},
 "encoding":{"x":{"field":"i","type":"quantitative","axis":null},"y":{"field":"m","type":"quantitative","axis":{"orient":"right","values":[1.574,1.54,1.505,1.47,1.435,1.4,1.365,1.33,1.295,1.26,1.226],"format":".4f","tickSize":2,"labelPadding":1,"labelFlush":false,"title":null}}}},
{"data":{"values":[{"t":"EURUSD,Daily  1.2561 1.2677 1.2520 1.2541"}]},"mark":{"type":"text","align":"left","baseline":"top","dx":1,"dy":3,"color":"#141470"},
 "encoding":{"x":{"datum":-0.5,"axis":null},"y":{"datum":1.5865,"axis":{"orient":"right","values":[1.574,1.54,1.505,1.47,1.435,1.4,1.365,1.33,1.295,1.26,1.226],"format":".4f","tickSize":2,"labelPadding":1,"labelFlush":false,"title":null}},"text":{"field":"t"}}},
{"data":{"values":[{"p":1.2541,"t":"1.2541"}]},"mark":{"type":"tick","orient":"horizontal","size":31,"thickness":10,"color":"#0B0B74","opacity":1},
 "encoding":{"x":{"datum":195.5,"axis":null},"y":{"field":"p","type":"quantitative","axis":{"orient":"right","values":[1.574,1.54,1.505,1.47,1.435,1.4,1.365,1.33,1.295,1.26,1.226],"format":".4f","tickSize":2,"labelPadding":1,"labelFlush":false,"title":null}}}},
{"data":{"values":[{"p":1.2541,"t":"1.2541"}]},"mark":{"type":"text","align":"center","baseline":"middle","color":"#FFFFFF","fontSize":7},
 "encoding":{"x":{"datum":195.5,"axis":null},"y":{"field":"p","type":"quantitative","axis":{"orient":"right","values":[1.574,1.54,1.505,1.47,1.435,1.4,1.365,1.33,1.295,1.26,1.226],"format":".4f","tickSize":2,"labelPadding":1,"labelFlush":false,"title":null}},"text":{"field":"t"}}}
]
},
{
"data":{"name":"bars"},
"width":587,"height":69,
"layer":[
{"data":{"values":[{"v":200},{"v":0},{"v":-150}]},"mark":{"type":"rule","color":"#F08080","strokeWidth":1},
 "encoding":{"y":{"field":"v","type":"quantitative","scale":{"domain":[-288.194,270.5396],"nice":false,"zero":false},"axis":{"orient":"right","values":[270.5396,0,-288.194],"labelExpr":"datum.value == 0 ? '0.00' : datum.value > 0 ? '270.5396' : '-288.194'","tickSize":2,"labelPadding":0,"labelFlush":true,"zindex":1,"title":null}}}},
{"data":{"values":[{"v":150},{"v":-200}]},"mark":{"type":"rule","color":"#F7BABA","strokeWidth":2},
 "encoding":{"y":{"field":"v","type":"quantitative","axis":{"orient":"right","values":[270.5396,0,-288.194],"labelExpr":"datum.value == 0 ? '0.00' : datum.value > 0 ? '270.5396' : '-288.194'","tickSize":2,"labelPadding":0,"labelFlush":true,"zindex":1,"title":null}}}},
{"mark":{"type":"rule"},
 "encoding":{"x":{"field":"i","type":"quantitative","scale":{"domain":[-0.5,189.5],"nice":false,"zero":false},"axis":null},"y":{"field":"a","type":"quantitative","axis":{"orient":"right","values":[270.5396,0,-288.194],"labelExpr":"datum.value == 0 ? '0.00' : datum.value > 0 ? '270.5396' : '-288.194'","tickSize":2,"labelPadding":0,"labelFlush":true,"zindex":1,"title":null}},"y2":{"datum":0},
 "color":{"field":"ka","type":"nominal","scale":{"domain":["r","g","w","y"],"range":["#FF0000","#008000","#8C8C8C","#FFFF00"]},"legend":null},
 "strokeWidth":{"condition":{"test":"datum.ka=='w'","value":1},"value":2}}},
{"mark":{"type":"line","color":"#C5C0A2","strokeWidth":1.5},
 "encoding":{"x":{"field":"i","type":"quantitative","axis":null},"y":{"field":"a","type":"quantitative","axis":{"orient":"right","values":[270.5396,0,-288.194],"labelExpr":"datum.value == 0 ? '0.00' : datum.value > 0 ? '270.5396' : '-288.194'","tickSize":2,"labelPadding":0,"labelFlush":true,"zindex":1,"title":null}}}},
{"data":{"values":[{"t":"CCI Indicator  CCI(21) -120.5571"}]},"mark":{"type":"text","align":"left","baseline":"top","dx":1,"dy":3,"color":"#141470"},
 "encoding":{"x":{"datum":-0.5,"axis":null},"y":{"datum":270.5396,"axis":{"orient":"right","values":[270.5396,0,-288.194],"labelExpr":"datum.value == 0 ? '0.00' : datum.value > 0 ? '270.5396' : '-288.194'","tickSize":2,"labelPadding":0,"labelFlush":true,"zindex":1,"title":null}},"text":{"field":"t"}}},
{"data":{"values":[{"v":200,"t":"200"},{"v":150,"t":"150"},{"v":-150,"t":"-150"},{"v":-200,"t":"-200"}]},"mark":{"type":"tick","orient":"horizontal","size":16,"thickness":9,"color":"#F4A0A0"},
 "encoding":{"x":{"datum":193.4,"axis":null},"y":{"field":"v","type":"quantitative","axis":{"orient":"right","values":[270.5396,0,-288.194],"labelExpr":"datum.value == 0 ? '0.00' : datum.value > 0 ? '270.5396' : '-288.194'","tickSize":2,"labelPadding":0,"labelFlush":true,"zindex":1,"title":null}}}},
{"data":{"values":[{"v":200,"t":"200"},{"v":150,"t":"150"},{"v":-150,"t":"-150"},{"v":-200,"t":"-200"}]},"mark":{"type":"text","align":"center","baseline":"middle","color":"#FFFFFF","fontSize":7},
 "encoding":{"x":{"datum":193.4,"axis":null},"y":{"field":"v","type":"quantitative","axis":{"orient":"right","values":[270.5396,0,-288.194],"labelExpr":"datum.value == 0 ? '0.00' : datum.value > 0 ? '270.5396' : '-288.194'","tickSize":2,"labelPadding":0,"labelFlush":true,"zindex":1,"title":null}},"text":{"field":"t"}}},
{"data":{"values":[{"v":0,"t":"0"}]},"mark":{"type":"tick","orient":"horizontal","size":6,"thickness":9,"color":"#F4A0A0"},
 "encoding":{"x":{"datum":191.9,"axis":null},"y":{"field":"v","type":"quantitative","axis":{"orient":"right","values":[270.5396,0,-288.194],"labelExpr":"datum.value == 0 ? '0.00' : datum.value > 0 ? '270.5396' : '-288.194'","tickSize":2,"labelPadding":0,"labelFlush":true,"zindex":1,"title":null}}}}
]
},
{
"data":{"name":"bars"},
"width":587,"height":75,
"layer":[
{"data":{"values":[{"v":0}]},"mark":{"type":"rule","color":"#F4A070","strokeWidth":1},
 "encoding":{"y":{"field":"v","type":"quantitative","scale":{"domain":[-363.567,97.4557],"nice":false,"zero":false},"axis":{"orient":"right","values":[97.4557,0,-363.567],"labelExpr":"datum.value == 0 ? '0.00' : datum.value > 0 ? '97.4557' : '-363.567'","tickSize":2,"labelPadding":0,"labelFlush":true,"zindex":1,"title":null}}}},
{"data":{"values":[{"v":-150}]},"mark":{"type":"rule","color":"#FF0000","strokeWidth":1},
 "encoding":{"y":{"field":"v","type":"quantitative","axis":{"orient":"right","values":[97.4557,0,-363.567],"labelExpr":"datum.value == 0 ? '0.00' : datum.value > 0 ? '97.4557' : '-363.567'","tickSize":2,"labelPadding":0,"labelFlush":true,"zindex":1,"title":null}}}},
{"data":{"values":[{"v":-200}]},"mark":{"type":"rule","color":"#F49090","strokeWidth":2},
 "encoding":{"y":{"field":"v","type":"quantitative","axis":{"orient":"right","values":[97.4557,0,-363.567],"labelExpr":"datum.value == 0 ? '0.00' : datum.value > 0 ? '97.4557' : '-363.567'","tickSize":2,"labelPadding":0,"labelFlush":true,"zindex":1,"title":null}}}},
{"mark":{"type":"rule"},
 "encoding":{"x":{"field":"i","type":"quantitative","scale":{"domain":[-0.5,189.5],"nice":false,"zero":false},"axis":null},"y":{"field":"b","type":"quantitative","axis":{"orient":"right","values":[97.4557,0,-363.567],"labelExpr":"datum.value == 0 ? '0.00' : datum.value > 0 ? '97.4557' : '-363.567'","tickSize":2,"labelPadding":0,"labelFlush":true,"zindex":1,"title":null}},"y2":{"datum":0},
 "color":{"field":"kb","type":"nominal","scale":{"domain":["r","g","w","y"],"range":["#FF0000","#008000","#8C8C8C","#FFFF00"]},"legend":null},
 "strokeWidth":{"condition":{"test":"datum.kb=='w'","value":1},"value":2}}},
{"mark":{"type":"line","color":"#C5C0A2","strokeWidth":1.5},
 "encoding":{"x":{"field":"i","type":"quantitative","axis":null},"y":{"field":"b","type":"quantitative","axis":{"orient":"right","values":[97.4557,0,-363.567],"labelExpr":"datum.value == 0 ? '0.00' : datum.value > 0 ? '97.4557' : '-363.567'","tickSize":2,"labelPadding":0,"labelFlush":true,"zindex":1,"title":null}}}},
{"data":{"values":[{"t":"CCI Indicator  CCI(106) -83.2981"}]},"mark":{"type":"text","align":"left","baseline":"top","dx":1,"dy":4,"color":"#141470"},
 "encoding":{"x":{"datum":-0.5,"axis":null},"y":{"datum":97.4557,"axis":{"orient":"right","values":[97.4557,0,-363.567],"labelExpr":"datum.value == 0 ? '0.00' : datum.value > 0 ? '97.4557' : '-363.567'","tickSize":2,"labelPadding":0,"labelFlush":true,"zindex":1,"title":null}},"text":{"field":"t"}}},
{"data":{"values":[{"v":-150,"t":"-150"},{"v":-200,"t":"-200"}]},"mark":{"type":"tick","orient":"horizontal","size":16,"thickness":9,"color":"#F42020"},
 "encoding":{"x":{"datum":193.4,"axis":null},"y":{"field":"v","type":"quantitative","axis":{"orient":"right","values":[97.4557,0,-363.567],"labelExpr":"datum.value == 0 ? '0.00' : datum.value > 0 ? '97.4557' : '-363.567'","tickSize":2,"labelPadding":0,"labelFlush":true,"zindex":1,"title":null}}}},
{"data":{"values":[{"v":-150,"t":"-150"},{"v":-200,"t":"-200"}]},"mark":{"type":"text","align":"center","baseline":"middle","color":"#FFFFFF","fontSize":7},
 "encoding":{"x":{"datum":193.4,"axis":null},"y":{"field":"v","type":"quantitative","axis":{"orient":"right","values":[97.4557,0,-363.567],"labelExpr":"datum.value == 0 ? '0.00' : datum.value > 0 ? '97.4557' : '-363.567'","tickSize":2,"labelPadding":0,"labelFlush":true,"zindex":1,"title":null}},"text":{"field":"t"}}},
{"data":{"values":[{"v":0,"t":"0"}]},"mark":{"type":"tick","orient":"horizontal","size":6,"thickness":9,"color":"#F4A070"},
 "encoding":{"x":{"datum":191.9,"axis":null},"y":{"field":"v","type":"quantitative","axis":{"orient":"right","values":[97.4557,0,-363.567],"labelExpr":"datum.value == 0 ? '0.00' : datum.value > 0 ? '97.4557' : '-363.567'","tickSize":2,"labelPadding":0,"labelFlush":true,"zindex":1,"title":null}}}}
]
},
{
"data":{"name":"bars"},
"width":587,"height":39,
"layer":[
{"data":{"values":[{"v":100},{"v":0},{"v":-100}]},"mark":{"type":"rule","color":"#A8A8A8","strokeWidth":1,"strokeDash":[3,3]},
 "encoding":{"y":{"field":"v","type":"quantitative","scale":{"domain":[-125,125],"nice":false,"zero":false},"axis":{"orient":"right","values":[106.6667,0,-106.666],"labelExpr":"datum.value == 0 ? '0.00' : datum.value > 0 ? '106.6667' : '-106.666'","tickSize":2,"labelPadding":0,"labelFlush":false,"zindex":1,"title":null}}}},
{"mark":{"type":"line","color":"#20209A","strokeWidth":2},
 "encoding":{"x":{"field":"i","type":"quantitative","scale":{"domain":[-0.5,189.5],"nice":false,"zero":false},
  "axis":{"orient":"bottom","values":[0,16,32,48,64,80,96,112,128,144,160,176],"labelExpr":"['31 Jul 2008','19 Aug 2008','7 Sep 2008','25 Sep 2008','14 Oct 2008','2 Nov 2008','20 Nov 2008','9 Dec 2008','29 Dec 2008','16 Jan 2009','4 Feb 2009','23 Feb 2009'][round(datum.value/16)]","labelAlign":"left","labelPadding":2,"tickSize":3,"labelFontSize":7.5,"labelFlush":false,"labelOverlap":false,"labelBound":false,"labelColor":"#10104A","title":null}},
 "y":{"field":"d","type":"quantitative","axis":{"orient":"right","values":[106.6667,0,-106.666],"labelExpr":"datum.value == 0 ? '0.00' : datum.value > 0 ? '106.6667' : '-106.666'","tickSize":2,"labelPadding":0,"labelFlush":false,"zindex":1,"title":null}}}},
{"data":{"values":[{"t":"CCI(4) -58.4499"}]},"mark":{"type":"text","align":"left","baseline":"top","dx":1,"dy":3,"color":"#141470"},
 "encoding":{"x":{"datum":-0.5},"y":{"datum":125,"axis":{"orient":"right","values":[106.6667,0,-106.666],"labelExpr":"datum.value == 0 ? '0.00' : datum.value > 0 ? '106.6667' : '-106.666'","tickSize":2,"labelPadding":0,"labelFlush":false,"zindex":1,"title":null}},"text":{"field":"t"}}},
{"data":{"values":[{"t":"© MetaTrader, © 2001-2009 MetaQuotes Software Corp."}]},"mark":{"type":"text","align":"left","baseline":"bottom","dx":1,"dy":-2,"color":"#3A3A80"},
 "encoding":{"x":{"datum":-0.5},"y":{"datum":-125,"axis":{"orient":"right","values":[106.6667,0,-106.666],"labelExpr":"datum.value == 0 ? '0.00' : datum.value > 0 ? '106.6667' : '-106.666'","tickSize":2,"labelPadding":0,"labelFlush":false,"zindex":1,"title":null}},"text":{"field":"t"}}},
{"data":{"values":[{"v":100,"t":"100"},{"v":-100,"t":"-100"}]},"mark":{"type":"text","align":"left","baseline":"middle","color":"#141470","fontSize":7},
 "encoding":{"x":{"datum":190.8},"y":{"field":"v","type":"quantitative","axis":{"orient":"right","values":[106.6667,0,-106.666],"labelExpr":"datum.value == 0 ? '0.00' : datum.value > 0 ? '106.6667' : '-106.666'","tickSize":2,"labelPadding":0,"labelFlush":false,"zindex":1,"title":null}},"text":{"field":"t"}}}
]
}
]
}
